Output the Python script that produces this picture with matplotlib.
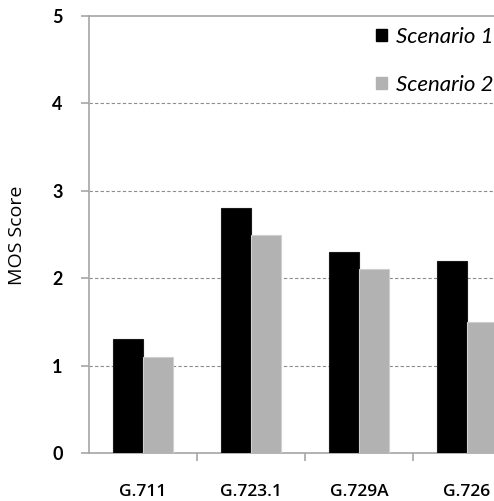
import matplotlib.pyplot as plt
from matplotlib.patches import Patch
import numpy as np

codecs = ['G.711', 'G.723.1', 'G.729A', 'G.726']
scenario_1 = [1.3, 2.8, 2.3, 2.2]
scenario_2 = [1.1, 2.5, 2.1, 1.5]
series_names = ['Scenario 1', 'Scenario 2']

axis_grey = '#a6a6a6'
bar_black = '#000000'
bar_grey = '#b2b2b2'

fig = plt.figure(figsize=(4.94, 5.01), dpi=100)
# plot area runs past the right edge of the figure
ax = fig.add_axes([89 / 494, 48 / 501, 432 / 494, 437 / 501])

x = np.arange(len(codecs))
w = 0.28
ax.bar(x - w / 2, scenario_1, w, color=bar_black, edgecolor='#1a1a1a', linewidth=0.8, zorder=3)
ax.bar(x + w / 2, scenario_2, w, color=bar_grey, edgecolor='#cfcfcf', linewidth=0.8, zorder=3)

ax.set_xlim(-0.5, 3.5)
ax.set_ylim(0, 5)

# dashed gridlines, solid frame line at the top
for yv in [1, 2, 3, 4]:
    ax.axhline(yv, color='#8c8c8c', linestyle=(0, (3, 2)), linewidth=0.8, zorder=1)

for side in ['left', 'bottom', 'top']:
    ax.spines[side].set_color(axis_grey)
    ax.spines[side].set_linewidth(1.2)
ax.spines['right'].set_visible(False)

ax.set_yticks([0, 1, 2, 3, 4, 5])
ax.tick_params(axis='y', direction='out', length=6, width=1.2, color=axis_grey, pad=13,
               labelsize=13)
for lab in ax.get_yticklabels():
    lab.set_fontweight('bold')
    lab.set_fontfamily('Lato')

ax.set_xticks(x)
ax.set_xticklabels(codecs, fontfamily='Open Sans', fontsize=12.5, fontweight='semibold')
ax.tick_params(axis='x', length=0, pad=22)
ax.set_xticks(x[:-1] + 0.5, minor=True)
ax.tick_params(axis='x', which='minor', direction='out', length=6, width=1.2, color=axis_grey)

fig.text(17 / 494, 1 - 235 / 501, 'MOS Score', rotation=90, ha='center', va='center',
         fontsize=14, fontfamily='Open Sans')

handles = [Patch(facecolor=bar_black, edgecolor=bar_black),
           Patch(facecolor=bar_grey, edgecolor=bar_grey)]
fig.legend(handles, series_names, loc='upper left', bbox_to_anchor=(376 / 494, 1 - 27 / 501),
           frameon=False, prop={'family': 'Lato', 'style': 'italic', 'size': 16},
           handlelength=0.5, handleheight=0.5, handletextpad=0.4, labelspacing=1.25,
           borderpad=0, borderaxespad=0)

plt.savefig('out.png', dpi=100)
